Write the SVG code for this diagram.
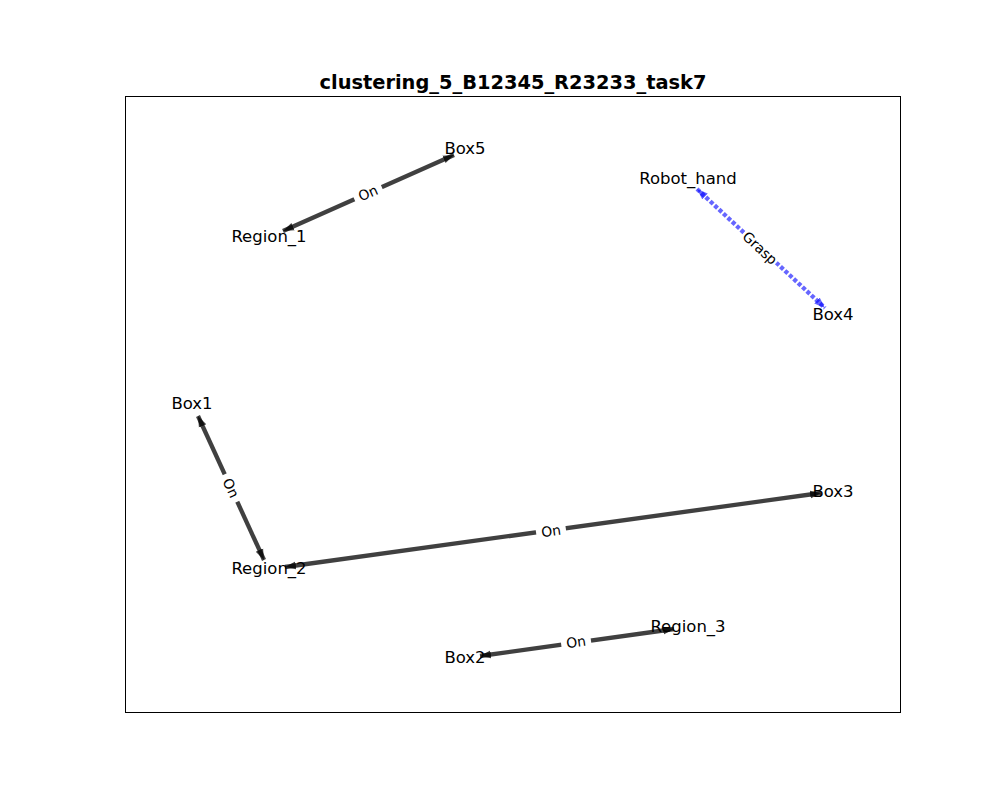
<svg xmlns="http://www.w3.org/2000/svg" width="1000" height="800" viewBox="0 0 1000 800">
<defs>
<marker id="ahk" markerUnits="userSpaceOnUse" markerWidth="12" markerHeight="10" refX="11" refY="5" orient="auto-start-reverse" viewBox="0 0 12 10">
<path d="M0,1 L11,5 L0,9 Z" fill="#000" fill-opacity="0.75"/>
</marker>
<marker id="ahb" markerUnits="userSpaceOnUse" markerWidth="12" markerHeight="10" refX="11" refY="5" orient="auto-start-reverse" viewBox="0 0 12 10">
<path d="M0,1 L11,5 L0,9 Z" fill="#0000ff" fill-opacity="0.6"/>
</marker>
</defs>
<style>
.node text{font-family:"DejaVu Sans",sans-serif;font-size:16.5px;fill:#000;text-anchor:middle;dominant-baseline:central}
.e{fill:none;stroke-width:4.3}
.k{stroke:#000;stroke-opacity:0.75;marker-start:url(#ahk);marker-end:url(#ahk)}
.b{stroke:#0000ff;stroke-opacity:0.6;stroke-dasharray:4,2;marker-start:url(#ahb);marker-end:url(#ahb)}
.lbl text{font-family:"DejaVu Sans",sans-serif;font-size:13.9px;fill:#000;text-anchor:middle;dominant-baseline:central}
.lbl rect{fill:#fff}
</style>
<rect width="1000" height="800" fill="#fff"/>
<rect x="125.5" y="96.5" width="775" height="616" fill="none" stroke="#000" stroke-width="1"/>
<text x="513" y="82" font-family="DejaVu Sans,sans-serif" font-size="19.4px" font-weight="bold" text-anchor="middle" dominant-baseline="central">clustering_5_B12345_R23233_task7</text>
<g id="edges">
<line class="e k" x1="283" y1="231" x2="454" y2="155"/>
<line class="e b" x1="697" y1="189" x2="825" y2="308"/>
<line class="e k" x1="198" y1="416" x2="264" y2="560"/>
<line class="e k" x1="285" y1="567" x2="821" y2="493"/>
<line class="e k" x1="480" y1="656" x2="674" y2="629"/>
<g class="lbl" transform="translate(368,193) rotate(-24)"><rect x="-15" y="-9" width="30" height="18"/><text>On</text></g>
<g class="lbl" transform="translate(760,248) rotate(42.7)"><rect x="-22" y="-9" width="44" height="18"/><text>Grasp</text></g>
<g class="lbl" transform="translate(231,488) rotate(65.4)"><rect x="-15" y="-9" width="30" height="18"/><text>On</text></g>
<g class="lbl" transform="translate(551,531) rotate(-7.9)"><rect x="-15" y="-9" width="30" height="18"/><text>On</text></g>
<g class="lbl" transform="translate(576,642) rotate(-8)"><rect x="-15" y="-9" width="30" height="18"/><text>On</text></g>
</g>
<g id="Box5" class="node"><text x="465" y="148">Box5</text></g>
<g id="Region_1" class="node"><text x="269" y="236">Region_1</text></g>
<g id="Robot_hand" class="node"><text x="688" y="178">Robot_hand</text></g>
<g id="Box4" class="node"><text x="833" y="314">Box4</text></g>
<g id="Box1" class="node"><text x="192" y="403">Box1</text></g>
<g id="Region_2" class="node"><text x="269" y="568">Region_2</text></g>
<g id="Box3" class="node"><text x="833" y="491">Box3</text></g>
<g id="Box2" class="node"><text x="465" y="657">Box2</text></g>
<g id="Region_3" class="node"><text x="688" y="626">Region_3</text></g>
</svg>
